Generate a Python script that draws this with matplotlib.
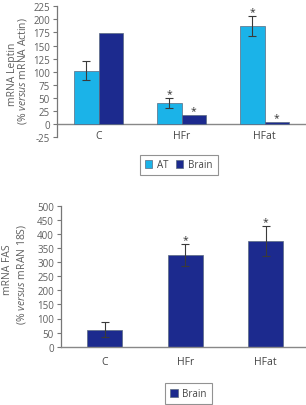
import matplotlib
matplotlib.use("Agg")
import matplotlib.pyplot as plt
import numpy as np

plt.rcParams['font.family'] = ['Open Sans', 'DejaVu Sans']
plt.rcParams['mathtext.fontset'] = 'custom'
plt.rcParams['mathtext.rm'] = 'Open Sans'
plt.rcParams['mathtext.it'] = 'Open Sans:italic'
plt.rcParams['axes.unicode_minus'] = False

groups = ["C", "HFr", "HFat"]
leptin_at = [102, 40, 187]
leptin_at_err = [18, 9.5, 19]
leptin_brain = [173, 16.5, 3]
leptin_brain_err = [0, 0, 0]
leptin_at_sig = [False, True, True]
leptin_brain_sig = [False, True, True]

fas_brain = [60, 325, 374]
fas_brain_err = [27, 38, 53]
fas_sig = [False, True, True]

top_ticks = [-25, 0, 25, 50, 75, 100, 125, 150, 175, 200, 225]
bot_ticks = [0, 50, 100, 150, 200, 250, 300, 350, 400, 450, 500]

c_at = "#1bb3e8"
c_brain = "#1c2a8e"
grey = "#5f5f5f"
err_c = "#3a3a3a"

W, H = 306, 406
fig = plt.figure(figsize=(W/100, H/100), dpi=100)

def px_axes(x0, x1, ytop, ybot):
    return fig.add_axes([x0/W, 1-ybot/H, (x1-x0)/W, (ybot-ytop)/H])

def style(ax, pad):
    for s in ['top', 'right']:
        ax.spines[s].set_visible(False)
    ax.spines['left'].set_color('#777777')
    ax.spines['left'].set_linewidth(0.9)
    ax.tick_params(axis='y', direction='out', length=3, width=0.8, color='#777777',
                   labelsize=7, labelcolor=grey, pad=2)
    ax.tick_params(axis='x', length=0, labelsize=7.5, labelcolor='#444444', pad=pad)

def star(ax, xi, y):
    ax.annotate('*', (xi, y), xytext=(0, 3.5), textcoords='offset points',
                ha='center', va='center', fontsize=7.5, color='#333333')

# ---- top chart ----
ax1 = px_axes(57, 306, 7.3, 138)
x = np.arange(len(groups))
bw = 0.29
ax1.bar(x - bw/2, leptin_at, bw, color=c_at, edgecolor='#5a6a80', linewidth=0.5, label='AT', zorder=2)
ax1.bar(x + bw/2, leptin_brain, bw, color=c_brain, edgecolor='#5a6a80', linewidth=0.5, label='Brain', zorder=2)
ax1.errorbar(x - bw/2, leptin_at, yerr=leptin_at_err, fmt='none', ecolor=err_c,
             elinewidth=0.8, capsize=3, capthick=0.8, zorder=3)
for xi, v, e, s in zip(x - bw/2, leptin_at, leptin_at_err, leptin_at_sig):
    if s:
        star(ax1, xi, v + e)
for xi, v, e, s in zip(x + bw/2, leptin_brain, leptin_brain_err, leptin_brain_sig):
    if s:
        star(ax1, xi, v + e)
ax1.set_xlim(-0.5, 2.5)
ax1.set_ylim(-25, 225)
ax1.set_yticks(top_ticks)
ax1.set_xticks(x)
ax1.set_xticklabels(groups)
style(ax1, 4.5)
ax1.spines['bottom'].set_position(('data', 0))
ax1.spines['bottom'].set_visible(False)
ax1.axhline(0, color='#888888', lw=1.0, zorder=1)
fig.text(12/W, 1-74/H, "mRNA Leptin", rotation=90, ha='center', va='center',
         fontsize=7.5, color=grey)
fig.text(23/W, 1-71/H, r"(% $\mathit{versus}$ mRNA Actin)", rotation=90, ha='center', va='center',
         fontsize=7.5, color=grey)
leg1 = ax1.legend(loc='center', bbox_to_anchor=(178.7/W, 1-166/H), bbox_transform=fig.transFigure,
                  ncol=2, fontsize=7, frameon=True, fancybox=False, handlelength=0.8,
                  handleheight=0.8, handletextpad=0.5, columnspacing=0.7, borderpad=0.5,
                  labelcolor='#444444')
leg1.get_frame().set_edgecolor('#777777')
leg1.get_frame().set_linewidth(0.8)

# ---- bottom chart ----
ax2 = px_axes(61, 306, 206.7, 347.7)
bw2 = 0.435
ax2.bar(x, fas_brain, bw2, color=c_brain, edgecolor='#5a6a80', linewidth=0.5, label='Brain', zorder=2)
ax2.errorbar(x, fas_brain, yerr=fas_brain_err, fmt='none', ecolor=err_c,
             elinewidth=0.8, capsize=3, capthick=0.8, zorder=3)
for xi, v, e, s in zip(x, fas_brain, fas_brain_err, fas_sig):
    if s:
        star(ax2, xi, v + e)
ax2.set_xlim(-0.545, 2.5)
ax2.set_ylim(0, 500)
ax2.set_yticks(bot_ticks)
ax2.set_xticks(x)
ax2.set_xticklabels(groups)
style(ax2, 7)
ax2.spines['bottom'].set_color('#888888')
ax2.spines['bottom'].set_linewidth(1.0)
fig.text(8/W, 1-270/H, "mRNA FAS", rotation=90, ha='center', va='center',
         fontsize=7.5, color=grey)
fig.text(21.5/W, 1-274/H, r"(% $\mathit{versus}$ mRAN 18S)", rotation=90, ha='center', va='center',
         fontsize=7.5, color=grey)
leg2 = ax2.legend(loc='center', bbox_to_anchor=(188.3/W, 1-394.7/H), bbox_transform=fig.transFigure,
                  fontsize=7, frameon=True, fancybox=False, handlelength=0.8,
                  handleheight=0.8, handletextpad=0.5, borderpad=0.5, labelcolor='#444444')
leg2.get_frame().set_edgecolor('#777777')
leg2.get_frame().set_linewidth(0.8)

fig.savefig("out.png", dpi=100)
